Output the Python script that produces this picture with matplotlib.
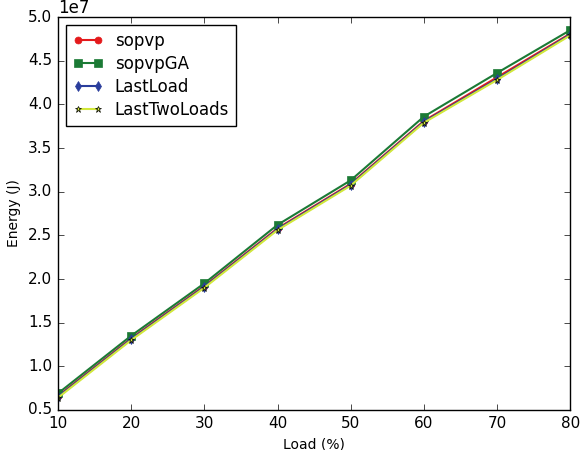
import numpy as np
import matplotlib
matplotlib.use("Agg")
import matplotlib.pyplot as plt

plt.style.use('classic')

load = [10, 20, 30, 40, 50, 60, 70, 80]
sopvp = [0.66, 1.32, 1.92, 2.58, 3.09, 3.81, 4.31, 4.81]
sopvpGA = [0.69, 1.35, 1.95, 2.62, 3.13, 3.86, 4.36, 4.85]
lastload = [0.65, 1.31, 1.91, 2.57, 3.08, 3.80, 4.29, 4.80]
lasttwoloads = [0.64, 1.30, 1.90, 2.56, 3.07, 3.79, 4.28, 4.79]

fig = plt.figure(figsize=(5.83, 4.5), dpi=100, facecolor='white')
ax = fig.add_axes([0.0995, 0.089, 0.8785, 0.873])

ax.plot(load, np.array(sopvp) * 1e7, '-o', color='#e41a1c', mec='#e41a1c', ms=5, lw=1.5, label='sopvp')
ax.plot(load, np.array(sopvpGA) * 1e7, '-s', color='#1b7a35', mec='#1b7a35', ms=6, lw=1.5, label='sopvpGA')
ax.plot(load, np.array(lastload) * 1e7, '-d', color='#2a3d9c', mec='#2a3d9c', ms=5, lw=1.5, label='LastLoad')
ax.plot(load, np.array(lasttwoloads) * 1e7, '-*', color='#d2e83a', mfc='#d2e83a', mec='k', ms=5, lw=1.5, label='LastTwoLoads')

ax.set_xlim(10, 80)
ax.set_ylim(0.5e7, 5.0e7)
ax.set_xlabel('Load (%)', fontsize=10)
ax.set_ylabel('Energy (J)', fontsize=10)
ax.tick_params(labelsize=11)
ax.legend(loc='upper left', numpoints=2, fontsize=12, handlelength=1.8,
          labelspacing=0.3, handletextpad=0.7, borderpad=0.4)

fig.savefig('out.png', dpi=100, facecolor='white')
